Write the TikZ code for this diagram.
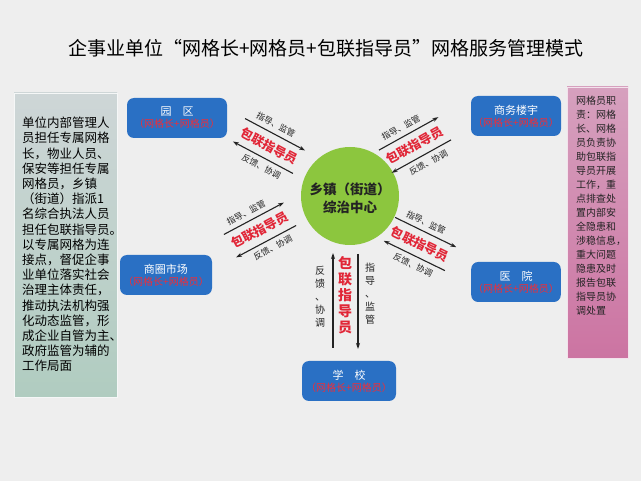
\documentclass[tikz,border=0pt]{standalone}
\usepackage{fontspec}
\setmainfont{Noto Sans CJK SC}
\usetikzlibrary{arrows.meta}
\definecolor{bg}{RGB}{238,238,238}
\definecolor{boxblue}{RGB}{42,112,196}
\definecolor{subred}{RGB}{240,45,55}
\definecolor{linkred}{RGB}{225,38,55}
\definecolor{ringgreen}{RGB}{140,198,62}
\definecolor{leftA}{RGB}{206,214,215}
\definecolor{leftB}{RGB}{176,204,192}
\definecolor{rightA}{RGB}{214,160,190}
\definecolor{rightB}{RGB}{204,116,162}
\definecolor{ink}{RGB}{35,35,35}
\tikzset{
  bluebox/.style={fill=boxblue, rounded corners=7pt, minimum width=94pt, minimum height=40pt, align=center, inner sep=2pt},
  arr/.style={line width=1.1pt, draw=ink, -{Stealth[length=6pt,width=4pt]}},
  smalltxt/.style={font=\fontsize{8.5}{11}\selectfont, text=ink, inner sep=0pt},
  vsmalltxt/.style={font=\fontsize{10}{13}\selectfont, text=ink, inner sep=0pt},
  redtxt/.style={font=\fontsize{12.5}{15}\selectfont\bfseries, text=linkred, inner sep=0pt},
  vredtxt/.style={font=\fontsize{14}{16}\selectfont\bfseries, text=linkred, inner sep=0pt},
}
\newcommand\boxtext[1]{{\color{white}\fontsize{11}{15}\selectfont #1}\\{\color{subred}\fontsize{10}{12}\selectfont （网格长+网格员）}}
% #1 name, #2 x, #3 y, #4 angle
\newcommand\linkgroup[4]{%
  \begin{scope}[shift={(#2,#3)}, rotate=#4]
    \coordinate (#1a1) at (-34,-13); \coordinate (#1b1) at (34,-13);
    \coordinate (#1a2) at (-34,13);  \coordinate (#1b2) at (34,13);
    \draw[arr] (#1a1) -- (#1b1);
    \draw[arr] (#1b2) -- (#1a2);
    \node[smalltxt, rotate=#4] (#1t1) at (-4,-22) {指导、监管};
    \node[redtxt, rotate=#4] (#1t2) at (0,0) {包联指导员};
    \node[smalltxt, rotate=#4] (#1t3) at (3,22) {反馈、协调};
  \end{scope}}
\begin{document}
\begin{tikzpicture}[x=1pt,y=-1pt]
\useasboundingbox (0,0) rectangle (641,481);
\fill[bg] (0,0) rectangle (641,481);
% title
\node[font=\fontsize{19}{22}\selectfont, text=black] (title) at (326,48) {企事业单位“网格长+网格员+包联指导员”网格服务管理模式};
% left panel
\shade[top color=leftA, bottom color=leftB] (14,93) rectangle (117,397);
\draw[white!80!leftA, line width=0.8pt] (14,93) rectangle (117,397);
\node[anchor=north west, align=left, inner sep=0pt, font=\fontsize{12.5}{15.2}\selectfont, text=black] (lefttext) at (22,117) {单位内部管理人\\员担任专属网格\\长，物业人员、\\保安等担任专属\\网格员，乡镇\\（街道）指派1\\名综合执法人员\\担任包联指导员。\\以专属网格为连\\接点，督促企事\\业单位落实社会\\治理主体责任，\\推动执法机构强\\化动态监管，形\\成企业自管为主、\\政府监管为辅的\\工作局面};
% right panel
\shade[top color=rightA, bottom color=rightB] (567,87) rectangle (628,358);
\draw[white!70!rightA, line width=0.8pt] (567,87) rectangle (628,358);
\node[anchor=north west, align=left, inner sep=0pt, font=\fontsize{10}{14}\selectfont, text=ink] (righttext) at (576,96) {网格员职\\责：网格\\长、网格\\员负责协\\助包联指\\导员开展\\工作，重\\点排查处\\置内部安\\全隐患和\\涉稳信息，\\重大问题\\隐患及时\\报告包联\\指导员协\\调处置};
% blue boxes
\node[bluebox, minimum width=100pt] (park) at (177,118) {\boxtext{园　区}};
\node[bluebox, minimum width=90pt] (office) at (516,116) {\boxtext{商务楼宇}};
\node[bluebox, minimum width=92pt] (market) at (166,275) {\boxtext{商圈市场}};
\node[bluebox, minimum width=84pt] (hospital) at (516,282) {\boxtext{医　院}};
\node[bluebox, minimum width=94pt] (school) at (349,381) {\boxtext{学　校}};
% centre
\node[circle, fill=ringgreen, minimum size=98pt, inner sep=0pt] (ctr) at (350,196) {};
\node[align=center, font=\fontsize{13.5}{18}\selectfont\bfseries, text=ink] (ctrtext) at (350,198) {乡镇（街道）\\综治中心};
% link groups
\linkgroup{tl}{269}{146}{-28}
\linkgroup{tr}{415}{145}{29}
\linkgroup{ml}{260}{230}{28}
\linkgroup{mr}{420}{244}{-26}
% bottom group
\coordinate (ba1) at (333,253); \coordinate (bb1) at (333,348);
\coordinate (ba2) at (358,254); \coordinate (bb2) at (358,349);
\draw[arr] (bb1) -- (ba1);
\draw[arr] (ba2) -- (bb2);
\node[vsmalltxt, align=center] (bt1) at (320,297) {反\\馈\\、\\协\\调};
\node[vredtxt, align=center] (bt2) at (345,295) {包\\联\\指\\导\\员};
\node[vsmalltxt, align=center] (bt3) at (370,294) {指\\导\\、\\监\\管};
\end{tikzpicture}
\end{document}
